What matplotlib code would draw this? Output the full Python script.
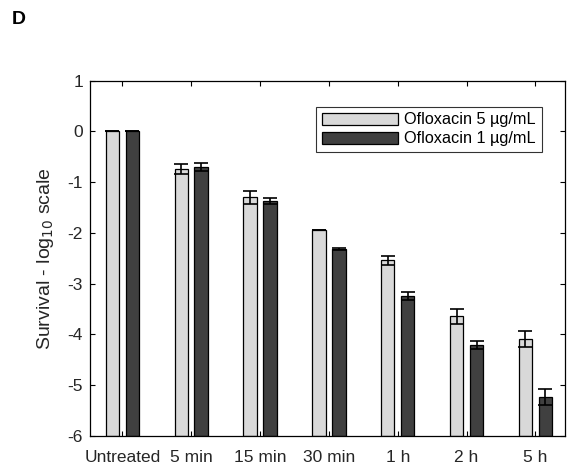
import numpy as np
import matplotlib
matplotlib.use('Agg')
import matplotlib.pyplot as plt

plt.rcParams['font.family'] = ['Liberation Sans', 'DejaVu Sans']

# data (log10 survival)
categories = ['Untreated', '5 min', '15 min', '30 min', '1 h', '2 h', '5 h']
oflox5 = [0.0, -0.74, -1.30, -1.94, -2.54, -3.64, -4.09]
oflox5_err = [0.0, 0.10, 0.12, 0.0, 0.09, 0.15, 0.165]
oflox1 = [0.0, -0.70, -1.37, -2.32, -3.25, -4.21, -5.23]
oflox1_err = [0.0, 0.08, 0.06, 0.02, 0.08, 0.085, 0.16]
labels = ['Ofloxacin 5 µg/mL', 'Ofloxacin 1 µg/mL']

c_light = '#d9d9d9'
c_dark = '#404040'
base = -6

fig = plt.figure(figsize=(5.68, 4.68), dpi=100)
ax = fig.add_axes([90/568, 1-436/468, 475/568, (436-80.7)/468])

x = np.arange(1, len(categories)+1)
off = 0.145
w = 0.195
v5 = np.array(oflox5)
v1 = np.array(oflox1)
ax.bar(x-off, v5-base, w, bottom=base, color=c_light, edgecolor='black', linewidth=0.9, label=labels[0], zorder=2)
ax.bar(x+off, v1-base, w, bottom=base, color=c_dark, edgecolor='black', linewidth=0.9, label=labels[1], zorder=2)
ax.errorbar(x-off, v5, yerr=oflox5_err, fmt='none', ecolor='black', elinewidth=1.2, capsize=4.7, capthick=1.2, zorder=3)
ax.errorbar(x+off, v1, yerr=oflox1_err, fmt='none', ecolor='black', elinewidth=1.2, capsize=4.7, capthick=1.2, zorder=3)

ax.set_xlim(0.53, 7.43)
ax.set_ylim(-6, 1)
ax.set_xticks(x)
ax.set_xticklabels(categories, fontsize=12.5, color='#262626')
ax.set_yticks(np.arange(-6, 2))
ax.set_yticklabels([str(v) for v in range(-6, 2)], fontsize=12.5, color='#262626')
ax.tick_params(direction='in', top=True, right=True, length=3.5, width=0.8, pad=5)
ax.tick_params(axis='x', pad=10)
for s in ax.spines.values():
    s.set_linewidth(0.9)
ax.set_ylabel('Survival - log$_{10}$ scale', fontsize=14, labelpad=8, color='#262626')

leg = ax.legend(loc='upper right', bbox_to_anchor=(0.951, 0.927), fontsize=11.7, frameon=True, fancybox=False,
                edgecolor='black', handlelength=4.7, handleheight=0.75, handletextpad=0.4,
                borderpad=0.35, labelspacing=0.25, borderaxespad=0)
leg.get_frame().set_linewidth(0.8)

fig.text(12/568, 1-20/468, 'D', fontsize=14, fontweight='bold', va='center', ha='left')

fig.savefig('out.png', dpi=100)
